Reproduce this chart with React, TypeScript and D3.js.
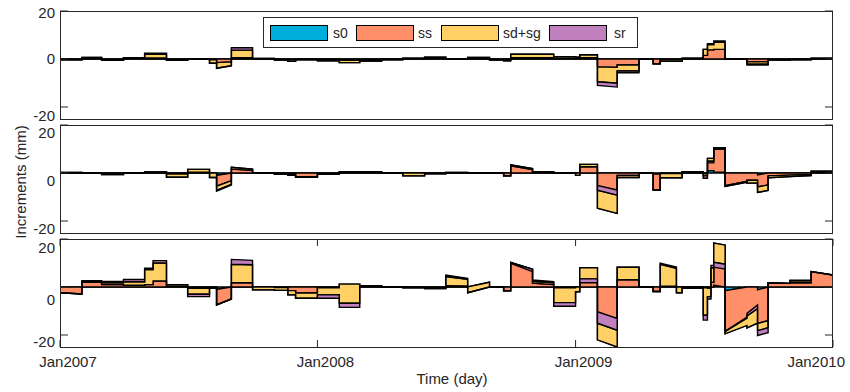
import * as d3 from 'd3'
import { useMemo } from 'react'

type V = number | [number, number]

// segment edges shared by the three panels (values are constant or ramp inside a segment)
const EDGES = [
  '2007-01-01', '2007-02-01', '2007-03-01', '2007-04-01', '2007-05-01', '2007-05-13', '2007-06-01',
  '2007-07-01', '2007-08-01', '2007-08-11', '2007-09-01', '2007-10-01', '2007-11-01', '2007-11-20',
  '2007-12-01', '2008-01-01', '2008-02-01', '2008-03-01', '2008-04-01', '2008-05-01', '2008-06-01',
  '2008-07-01', '2008-08-01', '2008-09-01', '2008-09-21', '2008-10-01', '2008-11-01', '2008-12-01',
  '2009-01-01', '2009-01-07', '2009-02-01', '2009-03-01', '2009-04-01', '2009-04-21', '2009-05-01',
  '2009-05-24', '2009-06-01', '2009-07-01', '2009-07-07', '2009-07-12', '2009-07-16', '2009-08-01',
  '2009-09-01', '2009-09-16', '2009-10-01', '2009-11-01', '2009-12-01', '2010-01-01',
]

const SERIES_KEYS = ['s0', 'ss', 'sdsg', 'sr']
const SERIES_NAMES = ['s0', 'ss', 'sd+sg', 'sr']
const SERIES_COLORS = ['#00AEDB', '#FF8F68', '#FFD066', '#C07FBD']

const Y_TICKS = [20, 0, -20]
const X_TICKS = ['2007-01-01', '2008-01-01', '2009-01-01', '2010-01-01']
const X_TICK_LABELS = ['Jan2007', 'Jan2008', 'Jan2009', 'Jan2010']

// panel 1
const P1_S0: V[] = [0, 0, 0, 0, 0, 0, 0, 0, 0, 0, 0, 0, 0, 0, 0, 0, 0, 0, 0, 0, 0, 0, 0, 0, 0, 0, 0, 0, 0, 0, 0, 0, 0, 0, 0, 0, 0, 0, 0, 0, 0, 0, 0, 0, 0, 0, 0]
const P1_SS: V[] = [-0.2, 0.3, -0.3, 0.3, 0.4, 0.4, -0.2, 0, -0.3, [-1.5, -1.2], 0.5, 0.1, -0.1, -0.3, -0.1, -0.2, -0.5, -0.3, -0.1, 0.1, 0.3, 0, 0.2, -0.1, -0.3, 0.5, 0.5, 0.3, 0.3, 0.5, [-3.3, -3.5], -2.5, 0, -2.0, -0.3, -0.3, 0.1, 1.5, 3.8, 3.8, 4, 0, -1.2, -1.2, -0.2, -0.1, 0.1]
const P1_SDSG: V[] = [-0.1, 0.3, -0.2, 0.2, 1.6, 1.6, -0.3, 0, -1.5, [-2.3, -1.6], 3.2, 0.1, -0.3, -0.7, -0.2, -0.6, -1.0, -0.6, -0.2, 0.2, 0.5, 0, 0.4, -0.3, -0.5, 1.5, 1.5, 0.7, 0.5, 1.3, [-6.2, -6.6], -2.5, 0, 0, -0.7, -0.7, 0.2, 2.5, 2.2, 2.2, 3, 0, -1.0, -1.0, -0.2, -0.2, 0.2]
const P1_SR: V[] = [0, 0, 0, 0, 0.4, 0.4, 0, 0, 0, -0.1, 1.0, 0, 0, 0, 0, 0, 0, 0, 0, 0, 0, 0, 0, 0, 0, 0, 0, 0, 0, 0, [-1.5, -1.6], -0.7, 0, 0, 0, 0, 0, 0, 0.4, 0.4, 0.5, 0, -0.3, -0.3, 0, 0, 0]

// panel 2
const P2_S0: V[] = [0, 0, 0, 0, 0, 0, 0, 0, 0, [-1, 0], 0, 0, 0, 0, 0, 0, 0, 0, 0, 0, 0, 0, 0, 0, 0, 0, 0, 0, 0, 0, 0, 0, 0, -0.4, 0, 0, 0, 0, 1.0, 1.0, 0.3, 0, 0, [-0.8, 0], 0, 0, 0]
const P2_SS: V[] = [0.1, 0, -0.5, 0, 0.2, 0.2, -0.4, 0.3, 0, [-4.5, -3.2], [1.6, 1.1], 0, -0.2, -0.6, -1.5, -0.2, 0.2, 0.2, 0, 0, -0.1, 0.1, 0, 0, -1.2, [3.0, 1.4], 0.2, 0, 0, 2.6, [-14.7, -16.8], -1.0, 0, -6.7, -0.2, -0.2, 0.2, -0.3, 5.1, 5.1, 10.2, [-5.6, -3.8], -3.0, -5.0, [-1.2, -0.9], [-0.9, -0.6], 0.4]
const P2_SDSG: V[] = [0.1, 0, -0.1, 0, 0.2, 0.2, -1.4, 1.2, -1.9, [-1.8, -1.5], [0.8, 0.5], 0, -0.3, -0.4, -0.3, -0.3, 0.3, 0.3, 0, -1.2, -0.2, 0.1, 0, 0, 0, 0.4, 0.3, 0, -1.0, 1.0, [7.5, 7.6], -0.9, 0, 0, -1.8, -1.8, 0.3, -0.9, -1.2, -1.2, 0, 0.3, -1.2, -2.3, [-0.8, -0.6], [-0.6, -0.5], 0.3]
const P2_SR: V[] = [0, 0, 0, 0, 0, 0, 0, 0, 0, -0.3, 0, 0, 0, 0, 0, 0, 0, 0, 0, 0, 0, 0, 0, 0, 0, 0, 0, 0, 0, 0, [2.0, 2.1], 0, 0, 0, 0, 0, 0, -1.0, -0.7, -0.7, -0.6, 0, 0, 0, 0, 0, 0]

// panel 3
const P3_S0: V[] = [0, 0, 0, 0, 0, 0, 0, 0, 0, [-1, 0], 0, 0, 0, 0, 0, 0, 0, 0, 0, 0, 0, 0, 0, 0, 0, 0, 0, 0, 0, 0, 0, 0, 0, 0, 0, 0, 0, 0, 0, 0, [0.8, 0], [-1.5, 0], 0, [-1.2, 0], 0, 0, 0]
const P3_SS: V[] = [[-2.4, -2.9], 2.0, 1.0, 0.7, 1.0, 2.5, 0.3, -0.5, -0.3, [-6.5, -5], 1.8, 0, -0.2, -1.5, -2.5, -0.3, 1.2, 0.2, 0, -0.1, -0.3, [0.5, 0.4], [0, 2], 0, -1.6, [10.2, 7.4], [1.6, 1.0], -0.3, 0, 8.0, [-22, -25], 3.0, 0, -1.9, 0.3, 0, 0, -0.3, -0.5, 2.0, 17.5, [-18, -16], [-17, -15], -14, [1.8, 1.5], 1.8, [6.4, 5.0]]
const P3_SDSG: V[] = [0, 0, 0.8, 1.5, 6.3, 7.5, 0.7, -2.5, -0.2, 0, [7.7, 7.5], -1.2, -1.2, -1.8, -2.2, -3.0, -8.0, 0.3, 0, -0.2, -0.3, [3.9, 2.8], [-2.4, -2], 0, 0, 0, [0.8, 0.8], -6.2, -2.0, -4.6, [6.9, 7.0], 5.2, 0, 0, [9.1, 7.5], -2.4, -0.5, -11.5, -3.5, 6.0, -8.0, [1, 3], [5, 6], -3, 0, 0.8, 0]
const P3_SR: V[] = [0, 0.6, 0.5, 0.9, 0.5, 1.0, 0, -1.0, 0, 0, [2.0, 1.8], 0, 0, 0, 0, -1.4, -1.7, 0, 0, 0, 0, [0.6, 0.4], 0, 0, 0, [-0.3, -1.0], [0.5, 0.4], -1.5, 0, -1.6, [4.8, 4.9], 0.1, 0, 0, 0.5, 0, 0, -2.0, -1.0, 1.0, -2.0, [0, 0.5], [1, 1.5], -2, 0, 0.2, 0]

const PANELS = [
  [P1_S0, P1_SS, P1_SDSG, P1_SR],
  [P2_S0, P2_SS, P2_SDSG, P2_SR],
  [P3_S0, P3_SS, P3_SDSG, P3_SR],
]

const W = 850
const H = 392
const LEFT = 60
const RIGHT = 833
const PANEL_TOPS = [11, 125, 239]
const PANEL_H = 108
const LABEL_NUDGE = [[2, 0, 9], [8, 8, 8], [9, 13, 7]]
const AXIS_COLOR = '#262626'
const FONT = '"Liberation Sans", Arial, sans-serif'

const parse = d3.utcParse('%Y-%m-%d')

const rowsFor = (cols: V[][]) => {
  const rows: any[] = []
  for (let i = 0; i < EDGES.length - 1; i++) {
    const start: any = { date: parse(EDGES[i]) }
    const end: any = { date: parse(EDGES[i + 1]) }
    SERIES_KEYS.forEach((k, j) => {
      const v = cols[j][i]
      start[k] = Array.isArray(v) ? v[0] : v
      end[k] = Array.isArray(v) ? v[1] : v
    })
    rows.push(start, end)
  }
  return rows
}

const x = d3
  .scaleUtc()
  .domain([parse('2007-01-01') as Date, parse('2010-01-01') as Date])
  .range([LEFT, RIGHT])

const Panel = ({ cols, index }: { cols: V[][]; index: number }) => {
  const top = PANEL_TOPS[index]
  const y = d3.scaleLinear().domain([-25, 20]).range([top + PANEL_H, top])

  // MATLAB-like cumulative stacking: each series starts where the previous one ended
  const paths = useMemo(() => {
    const stacked = d3.stack().keys(SERIES_KEYS)(rowsFor(cols) as any)
    const area = d3
      .area<any>()
      .x(d => x(d.data.date))
      .y0(d => y(d[0]))
      .y1(d => y(d[1]))
    return stacked.map(s => area(s as any))
  }, [cols, index])

  const clipId = `clip-${index}`
  const bottom = top + PANEL_H

  return (
    <g>
      <defs>
        <clipPath id={clipId}>
          <rect x={LEFT} y={top} width={RIGHT - LEFT} height={PANEL_H} />
        </clipPath>
      </defs>
      <g clipPath={`url(#${clipId})`}>
        {paths.map((d, i) => (
          <path
            key={i}
            d={d || ''}
            fill={SERIES_COLORS[i]}
            stroke="#000"
            strokeWidth={1.4}
          />
        ))}
      </g>

      {Y_TICKS.map((t, i) => (
        <g key={t}>
          <line x1={LEFT} x2={LEFT + 8} y1={y(t)} y2={y(t)} stroke={AXIS_COLOR} />
          <line x1={RIGHT - 8} x2={RIGHT} y1={y(t)} y2={y(t)} stroke={AXIS_COLOR} />
          <text
            x={55}
            y={y(t) + LABEL_NUDGE[index][i]}
            dy="0.35em"
            textAnchor="end"
            fontSize={15}
            fill={AXIS_COLOR}
          >
            {t}
          </text>
        </g>
      ))}

      {index === 2 &&
        X_TICKS.map((t, i) => {
          const xx = x(parse(t) as Date)
          const last = i === X_TICKS.length - 1
          return (
            <g key={t}>
              <line x1={xx} x2={xx} y1={bottom} y2={bottom - 7} stroke={AXIS_COLOR} />
              <line x1={xx} x2={xx} y1={top} y2={top + 7} stroke={AXIS_COLOR} />
              <text
                x={last ? 845 : xx + 8}
                y={367}
                textAnchor={last ? 'end' : 'middle'}
                fontSize={15}
                fill={AXIS_COLOR}
              >
                {X_TICK_LABELS[i]}
              </text>
            </g>
          )
        })}

      <rect
        x={LEFT + 0.5}
        y={top + 0.5}
        width={RIGHT - LEFT - 1}
        height={PANEL_H}
        fill="none"
        stroke={AXIS_COLOR}
      />
    </g>
  )
}

const Legend = () => {
  const items = [
    { sx: 270, tx: 333 },
    { sx: 356, tx: 418 },
    { sx: 441, tx: 503 },
    { sx: 549, tx: 614 },
  ]
  return (
    <g>
      <rect x={263.5} y={17.5} width={374} height={30} fill="#fff" stroke={AXIS_COLOR} />
      {SERIES_NAMES.map((name, i) => (
        <g key={name}>
          <rect
            x={items[i].sx + 0.5}
            y={25.5}
            width={57}
            height={15}
            fill={SERIES_COLORS[i]}
            stroke="#000"
          />
          <text x={items[i].tx} y={38} fontSize={14} fill={AXIS_COLOR}>
            {name}
          </text>
        </g>
      ))}
    </g>
  )
}

export default function App() {
  return (
    <svg
      width={W}
      height={H}
      style={{ position: 'absolute', left: 0, top: 0, background: '#fff' }}
      fontFamily={FONT}
    >
      {PANELS.map((cols, i) => (
        <Panel key={i} cols={cols} index={i} />
      ))}
      <Legend />
      <text
        transform="translate(26, 182) rotate(-90)"
        textAnchor="middle"
        fontSize={15}
        fill={AXIS_COLOR}
      >
        Increments (mm)
      </text>
      <text x={452} y={384} textAnchor="middle" fontSize={15} fill={AXIS_COLOR}>
        Time (day)
      </text>
    </svg>
  )
}
